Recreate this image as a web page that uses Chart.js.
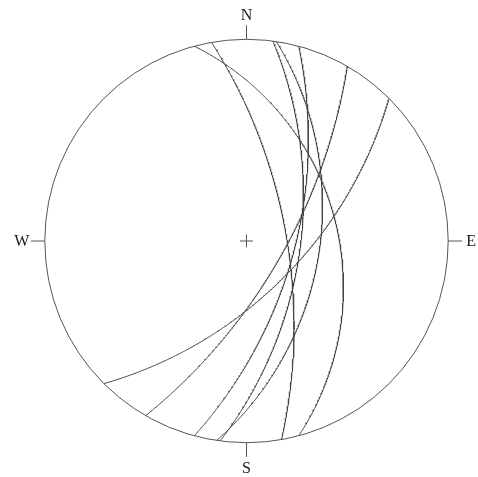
<!DOCTYPE html>
<html>
<head>
<meta charset="utf-8">
<script src="https://cdn.jsdelivr.net/npm/chart.js@4"></script>
<style>
  html, body { margin: 0; padding: 0; background: #fff; }
  canvas { display: block; }
</style>
</head>
<body>
<canvas id="net" width="478" height="477"></canvas>
<script>
// Planes plotted as great circles (strike by right-hand rule, dip in degrees)
const planeNames = ["P1", "P2", "P3", "P4", "P5", "P6", "P7"];
const strikes = [345, 350, 7.5, 8.5, 15, 30, 45];
const dips = [41.5, 67.5, 60, 50, 63, 69, 61];

// Compass labels on the primitive circle
const compassLabels = ["N", "E", "S", "W"];
const compassAzimuths = [0, 90, 180, 270];

const toRad = d => d * Math.PI / 180;

// Wulff (equal-angle) projection of a great circle, unit primitive radius
function greatCircle(strike, dip) {
    const s = toRad(strike), a = toRad(strike + 90), d = toRad(dip);
    const pts = [];
    for (let i = 0; i <= 360; i++) {
        const f = toRad(i / 2);
        const north = Math.cos(f) * Math.cos(s) + Math.sin(f) * Math.cos(a) * Math.cos(d);
        const east = Math.cos(f) * Math.sin(s) + Math.sin(f) * Math.sin(a) * Math.cos(d);
        const down = Math.sin(f) * Math.sin(d);
        const plunge = Math.asin(Math.min(1, down));
        const trend = Math.atan2(east, north);
        const rho = Math.tan((Math.PI / 2 - plunge) / 2);
        pts.push({ x: rho * Math.sin(trend), y: rho * Math.cos(trend) });
    }
    return pts;
}

const datasets = planeNames.map((name, i) => ({
    label: name,
    data: greatCircle(strikes[i], dips[i]),
    showLine: true,
    borderColor: '#444',
    borderWidth: 1,
    pointRadius: 0,
    tension: 0
}));

// primitive circle, ticks, centre cross and labels
const netFrame = {
    id: 'netFrame',
    afterDatasetsDraw(chart) {
        const ctx = chart.ctx;
        const xs = chart.scales.x, ys = chart.scales.y;
        const cx = xs.getPixelForValue(0), cy = ys.getPixelForValue(0);
        const r = xs.getPixelForValue(1) - cx;
        ctx.save();
        ctx.strokeStyle = '#555';
        ctx.lineWidth = 1;
        ctx.beginPath();
        ctx.arc(cx, cy, r, 0, Math.PI * 2);
        ctx.stroke();

        ctx.fillStyle = '#1a1a1a';
        ctx.font = '16px "Liberation Serif", "DejaVu Serif", serif';
        ctx.textAlign = 'center';
        ctx.textBaseline = 'middle';
        compassLabels.forEach((lab, i) => {
            const az = toRad(compassAzimuths[i]);
            const sx = Math.sin(az), sy = -Math.cos(az);
            ctx.beginPath();
            ctx.moveTo(cx + sx * r, cy + sy * r);
            ctx.lineTo(cx + sx * (r + 14), cy + sy * (r + 14));
            ctx.stroke();
            const off = (i % 2 === 0) ? 25 : 23;
            ctx.fillText(lab, cx + sx * (r + off), cy + sy * (r + off) + 1);
        });

        ctx.beginPath();
        ctx.moveTo(cx - 6.5, cy); ctx.lineTo(cx + 6.5, cy);
        ctx.moveTo(cx, cy - 6.5); ctx.lineTo(cx, cy + 6.5);
        ctx.stroke();
        ctx.restore();
    }
};

const R = 201.7, CX = 246.5, CY = 241;
new Chart(document.getElementById('net'), {
    type: 'scatter',
    data: { datasets: datasets },
    options: {
        responsive: false,
        maintainAspectRatio: false,
        animation: false,
        layout: { padding: 0 },
        plugins: { legend: { display: false }, tooltip: { enabled: false } },
        scales: {
            x: { display: false, min: -CX / R, max: (478 - CX) / R },
            y: { display: false, min: -(477 - CY) / R, max: CY / R }
        }
    },
    plugins: [netFrame]
});
</script>
</body>
</html>
